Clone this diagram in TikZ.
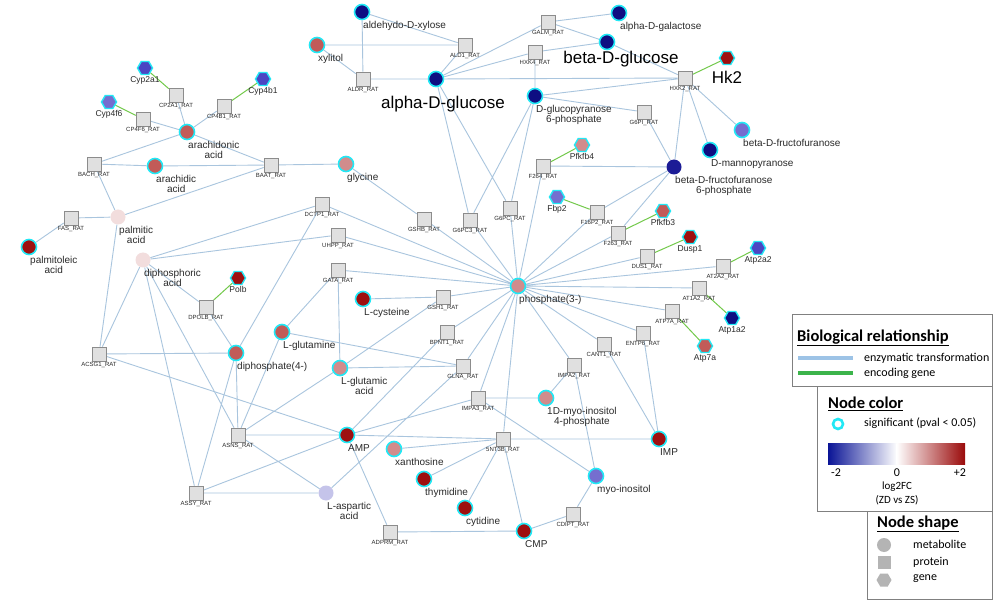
\documentclass[tikz,border=0pt]{standalone}
\usepackage{fontspec}
\setmainfont{Liberation Sans}
\newfontfamily\legfont{Carlito}
\usetikzlibrary{shapes.geometric,backgrounds}
\definecolor{enzline}{HTML}{A9C5DE}
\definecolor{geneline}{HTML}{72C94A}
\definecolor{sigring}{HTML}{22E8F5}
\definecolor{protfill}{HTML}{E0E0E0}
\definecolor{protdraw}{HTML}{8C8C8C}
\definecolor{labtext}{HTML}{2A2A2A}
\definecolor{dnA}{HTML}{0E0E82}
\definecolor{dnB}{HTML}{4B46C3}
\definecolor{dnC}{HTML}{756ECF}
\definecolor{dnD}{HTML}{C5C4EA}
\definecolor{dnE}{HTML}{1C1C96}
\definecolor{upO}{HTML}{F2DDDD}
\definecolor{upA}{HTML}{D18C8C}
\definecolor{upB}{HTML}{C25B58}
\definecolor{upC}{HTML}{9E1010}
\definecolor{legbox}{HTML}{808080}
\definecolor{legblue}{HTML}{9DC3E6}
\definecolor{leggreen}{HTML}{3CB44B}
\definecolor{leggray}{HTML}{B4B4B4}
\definecolor{gradlo}{HTML}{0A1496}
\definecolor{gradhi}{HTML}{9A0A0A}

\begin{document}
\begin{tikzpicture}[x=1pt,y=-1pt,
    met/.style={circle,minimum size=15pt,inner sep=0pt,fill=#1},
    sig/.style={draw=sigring,line width=1.6pt},
    prot/.style={rectangle,minimum size=14pt,inner sep=0pt,fill=protfill,draw=protdraw,line width=0.6pt,label={[plab]below:#1}},
    gene/.style={regular polygon,regular polygon sides=6,minimum size=15pt,inner sep=0pt,fill=#1,draw=sigring,line width=1.4pt},
    mlab/.style={anchor=north west,align=center,inner sep=1pt,text=labtext,font=\fontsize{10}{10}\selectfont},
    glab/.style={inner sep=1pt,text=labtext,font=\fontsize{8.5}{9}\selectfont},
    plab/.style={inner sep=0.8pt,text=labtext,font=\fontsize{6}{6}\selectfont},
    blab/.style={inner sep=1pt,text=black,font=\fontsize{17}{17}\selectfont},
    enz/.style={enzline,line width=0.9pt},
    enc/.style={geneline,line width=1pt},
    legtxt/.style={anchor=west,inner sep=0pt,font=\legfont\fontsize{12}{12}\selectfont},
    legtitle/.style={anchor=west,inner sep=0pt,font=\legfont\bfseries\fontsize{16.5}{16.5}\selectfont}]
\useasboundingbox (0,0) rectangle (1000,609);

% metabolites
\node[met=dnA,sig,label={[mlab]below:aldehydo-D-xylose}] (xyl) at (362,12) {};
\node[met=upB,sig,label={[mlab]below:xylitol}] (xylt) at (317,45) {};
\node[met=dnA,sig,label={[blab,xshift=7pt,label distance=8pt]below:alpha-D-glucose}] (aglc) at (436,79) {};
\node[met=dnA,sig,label={[mlab]below:alpha-D-galactose}] (agal) at (619,13) {};
\node[met=dnA,sig,label={[blab,xshift=14pt]below:beta-D-glucose}] (bglc) at (607,42) {};
\node[met=dnA,sig,label={[mlab]below:D-glucopyranose\\6-phosphate}] (g6p) at (535,96) {};
\node[met=dnC,sig,label={[mlab]below:beta-D-fructofuranose}] (bfru) at (742,130) {};
\node[met=dnA,sig,label={[mlab]below:D-mannopyranose}] (manp) at (710,150) {};
\node[met=dnE,label={[mlab]below:beta-D-fructofuranose\\6-phosphate}] (f6p) at (674,167) {};
\node[met=upA,sig,label={[mlab]below:phosphate(3-)}] (phos) at (518,286) {};
\node[met=upA,sig,label={[mlab]below:1D-myo-inositol\\4-phosphate}] (mi4p) at (546,398) {};
\node[met=upC,sig,label={[mlab]below:IMP}] (imp) at (659,439) {};
\node[met=dnC,sig,label={[mlab]below:myo-inositol}] (myoi) at (596,476) {};
\node[met=upC,sig,label={[mlab]below:CMP}] (cmp) at (524,531) {};
\node[met=upC,sig,label={[mlab]below:cytidine}] (cyt) at (465,508) {};
\node[met=upC,sig,label={[mlab]below:thymidine}] (thy) at (424,479) {};
\node[met=upA,sig,label={[mlab]below:xanthosine}] (xan) at (394,449) {};
\node[met=upC,sig,label={[mlab]below:AMP}] (amp) at (347,435) {};
\node[met=dnD,label={[mlab]below:L-aspartic\\acid}] (lasp) at (326,493) {};
\node[met=upA,sig,label={[mlab]below:L-glutamic\\acid}] (lglu) at (340,368) {};
\node[met=upB,sig,label={[mlab]below:L-glutamine}] (lgln) at (282,332) {};
\node[met=upC,sig,label={[mlab]below:L-cysteine}] (lcys) at (363,299) {};
\node[met=upB,sig,label={[mlab]below:diphosphate(4-)}] (ppi) at (236,353) {};
\node[met=upA,sig,label={[mlab]below:glycine}] (gly) at (346,164) {};
\node[met=upB,sig,label={[mlab]below:arachidonic\\acid}] (arao) at (187,132) {};
\node[met=upB,sig,label={[mlab]below:arachidic\\acid}] (arai) at (155,166) {};
\node[met=upO,label={[mlab]below:palmitic\\acid}] (palm) at (118,217) {};
\node[met=upC,sig,label={[mlab]below:palmitoleic\\acid}] (palo) at (29,247) {};
\node[met=upO,label={[mlab]below:diphosphoric\\acid}] (ppa) at (143,260) {};

% proteins
\node[prot=ALDR\_RAT] (aldr) at (363,79) {};
\node[prot=ALD1\_RAT] (ald1) at (465,45) {};
\node[prot=GALM\_RAT] (galm) at (548,22) {};
\node[prot=HXK4\_RAT] (hxk4) at (535,52) {};
\node[prot=HXK2\_RAT] (hxk2) at (685,78) {};
\node[prot=G6PI\_RAT] (g6pi) at (644,112) {};
\node[prot=F264\_RAT] (f264) at (543,166) {};
\node[prot=F16P2\_RAT] (f16p2) at (597,212) {};
\node[prot=F263\_RAT] (f263) at (618,233) {};
\node[prot=DUS1\_RAT] (dus1) at (647,256) {};
\node[prot=AT2A2\_RAT] (at2a2) at (723,266) {};
\node[prot=AT1A2\_RAT] (at1a2) at (699,288) {};
\node[prot=ATP7A\_RAT] (atp7ar) at (672,311) {};
\node[prot=ENTP6\_RAT] (entp6) at (643,333) {};
\node[prot=CANT1\_RAT] (cant1) at (604,344) {};
\node[prot=IMPA2\_RAT] (impa2) at (574,365) {};
\node[prot=IMPA3\_RAT] (impa3) at (478,398) {};
\node[prot=5NT3B\_RAT] (snt3b) at (503,439) {};
\node[prot=CDIPT\_RAT] (cdipt) at (573,514) {};
\node[prot=ADPRM\_RAT] (adprm) at (390,532) {};
\node[prot=ASNS\_RAT] (asns) at (238,435) {};
\node[prot=ASSY\_RAT] (assy) at (196,493) {};
\node[prot=ACSG1\_RAT] (acsg1) at (99,354) {};
\node[prot=DPOLB\_RAT] (dpolb) at (206,307) {};
\node[prot=GATA\_RAT] (gata) at (338,270) {};
\node[prot=UHPP\_RAT] (uhpp) at (338,235) {};
\node[prot=DCTP1\_RAT] (dctp1) at (322,204) {};
\node[prot=GSHB\_RAT] (gshb) at (424,219) {};
\node[prot=G6PC3\_RAT] (g6pc3) at (470,220) {};
\node[prot=G6PC\_RAT] (g6pc) at (510,208) {};
\node[prot=GSH1\_RAT] (gsh1) at (443,297) {};
\node[prot=BPNT1\_RAT] (bpnt1) at (447,332) {};
\node[prot=GLNA\_RAT] (glna) at (463,366) {};
\node[prot=BAAT\_RAT] (baat) at (271,165) {};
\node[prot=BACH\_RAT] (bach) at (94,164) {};
\node[prot=FAS\_RAT] (fas) at (71,218) {};
\node[prot=CP4F6\_RAT] (cp4f6) at (143,119) {};
\node[prot=CP2A1\_RAT] (cp2a1) at (176,95) {};
\node[prot=CP4B1\_RAT] (cp4b1) at (224,106) {};

% genes
\node[gene=upC,label={[blab,label distance=5pt]below:Hk2}] (hk2) at (727,58) {};
\node[gene=upA,label={[glab]below:Pfkfb4}] (pfkfb4) at (582,145) {};
\node[gene=dnC,label={[glab]below:Fbp2}] (fbp2) at (557,197) {};
\node[gene=upB,label={[glab]below:Pfkfb3}] (pfkfb3) at (663,211) {};
\node[gene=upC,label={[glab]below:Dusp1}] (dusp1) at (690,237) {};
\node[gene=dnB,label={[glab]below:Atp2a2}] (atp2a2) at (758,248) {};
\node[gene=dnA,label={[glab]below:Atp1a2}] (atp1a2) at (732,318) {};
\node[gene=upB,label={[glab]below:Atp7a}] (atp7a) at (705,346) {};
\node[gene=upC,label={[glab]below:Polb}] (polb) at (238,278) {};
\node[gene=dnB,label={[glab]below:Cyp2a1}] (cyp2a1) at (145,68) {};
\node[gene=dnC,label={[glab]below:Cyp4f6}] (cyp4f6) at (109,102) {};
\node[gene=dnB,label={[glab]below:Cyp4b1}] (cyp4b1) at (263,79) {};

\begin{scope}[on background layer]
\fill[white] (0,0) rectangle (1000,609);
% enzymatic transformation
\draw[enz] (xyl)--(aldr) (xyl)--(ald1) (xylt)--(ald1) (xylt)--(aldr) (aldr)--(aglc) (ald1)--(aglc)
    (aglc)--(galm) (aglc)--(hxk4) (aglc)--(hxk2) (aglc)--(g6pc3) (aglc)--(g6pc)
    (galm)--(agal) (galm)--(bglc) (hxk4)--(bglc) (hxk4)--(g6p) (bglc)--(hxk2)
    (g6p)--(hxk2) (g6p)--(g6pi) (g6p)--(g6pc) (g6p)--(g6pc3) (g6pi)--(f6p)
    (hxk2)--(f6p) (hxk2)--(manp) (hxk2)--(bfru)
    (f264)--(f6p) (f16p2)--(f6p) (f263)--(f6p);
\draw[enz] (phos)--(f264) (phos)--(f16p2) (phos)--(f263) (phos)--(g6pc) (phos)--(g6pc3)
    (phos)--(gshb) (phos)--(dctp1) (phos)--(uhpp) (phos)--(gata) (phos)--(gsh1)
    (phos)--(bpnt1) (phos)--(glna) (phos)--(impa3) (phos)--(impa2) (phos)--(cant1)
    (phos)--(entp6) (phos)--(atp7ar) (phos)--(at1a2) (phos)--(at2a2) (phos)--(dus1)
    (phos)--(snt3b);
\draw[enz] (gly)--(gshb) (baat)--(gly) (lcys)--(gsh1) (lglu)--(gsh1) (lglu)--(gata)
    (lgln)--(gata) (lglu)--(glna) (lgln)--(glna) (lgln)--(asns) (lglu)--(asns)
    (lasp)--(asns) (lasp)--(assy) (lasp)--(glna)
    (amp)--(asns) (amp)--(assy) (amp)--(acsg1) (amp)--(bpnt1) (amp)--(impa3)
    (amp)--(snt3b) (amp)--(adprm) (adprm)--(cmp);
\draw[enz] (snt3b)--(imp) (snt3b)--(xan) (snt3b)--(thy) (snt3b)--(cyt) (snt3b)--(cmp)
    (cant1)--(imp) (entp6)--(imp) (impa3)--(mi4p) (impa2)--(mi4p) (impa3)--(myoi)
    (impa2)--(myoi) (cdipt)--(myoi) (cdipt)--(cmp);
\draw[enz] (ppa)--(dctp1) (ppa)--(uhpp) (ppa)--(dpolb) (ppa)--(acsg1) (ppa)--(asns)
    (ppa)--(assy) (ppi)--(dctp1) (ppi)--(acsg1) (ppi)--(dpolb) (ppi)--(asns)
    (ppi)--(assy) (palm)--(acsg1) (palm)--(fas) (palm)--(bach) (palm)--(baat)
    (fas)--(palo) (bach)--(arao) (bach)--(arai) (arai)--(baat) (arao)--(baat)
    (arao)--(cp4f6) (arao)--(cp2a1) (arao)--(cp4b1);
% encoding gene
\draw[enc] (cyp2a1)--(cp2a1) (cyp4f6)--(cp4f6) (cyp4b1)--(cp4b1) (polb)--(dpolb)
    (hk2)--(hxk2) (pfkfb4)--(f264) (fbp2)--(f16p2) (pfkfb3)--(f263) (dusp1)--(dus1)
    (atp2a2)--(at2a2) (atp1a2)--(at1a2) (atp7a)--(atp7ar);
\end{scope}

% legend
\draw[legbox,line width=1pt] (792,314) rectangle (992,386);
\draw[legbox,line width=1pt] (817,386) rectangle (992,511);
\draw[legbox,line width=1pt] (867,511) rectangle (992,599);
\node[legtitle] (reltitle) at (797,338) {\underline{Biological relationship}};
\draw[legblue,line width=4pt] (798,358) -- (853,358);
\node[legtxt] (enztxt) at (864,358) {enzymatic transformation};
\draw[leggreen,line width=4pt] (798,373) -- (853,373);
\node[legtxt] (enctxt) at (864,373) {encoding gene};
\node[legtitle] (coltitle) at (828,404) {\underline{Node color}};
\draw[sigring,line width=2.6pt] (838,424) circle[radius=5pt];
\node[legtxt] (sigtxt) at (864,423) {significant (pval < 0.05)};
\shade[left color=gradlo,right color=white] (828,443) rectangle (897,464);
\shade[left color=white,right color=gradhi] (896.5,443) rectangle (965,464);
\node[legtxt,anchor=center] (lo) at (836,473) {-2};
\node[legtxt,anchor=center] (mid) at (897,473) {0};
\node[legtxt,anchor=center] (hi) at (960,473) {+2};
\node[legtxt,anchor=center,font=\legfont\fontsize{11}{11}\selectfont] (fc) at (897,487) {log2FC};
\node[legtxt,anchor=center,font=\legfont\fontsize{11}{11}\selectfont] (zd) at (897,500) {(ZD vs ZS)};
\node[legtitle] (shptitle) at (877,524) {\underline{Node shape}};
\fill[leggray] (884,545) circle[radius=7pt];
\fill[leggray] (877.5,555.5) rectangle (890.5,568.5);
\node[regular polygon,regular polygon sides=6,minimum size=15pt,inner sep=0pt,fill=leggray] (hexkey) at (884,580) {};
\node[legtxt] (mettxt) at (913,544) {metabolite};
\node[legtxt] (prottxt) at (913,562) {protein};
\node[legtxt] (genetxt) at (913,579) {gene};
\end{tikzpicture}
\end{document}
